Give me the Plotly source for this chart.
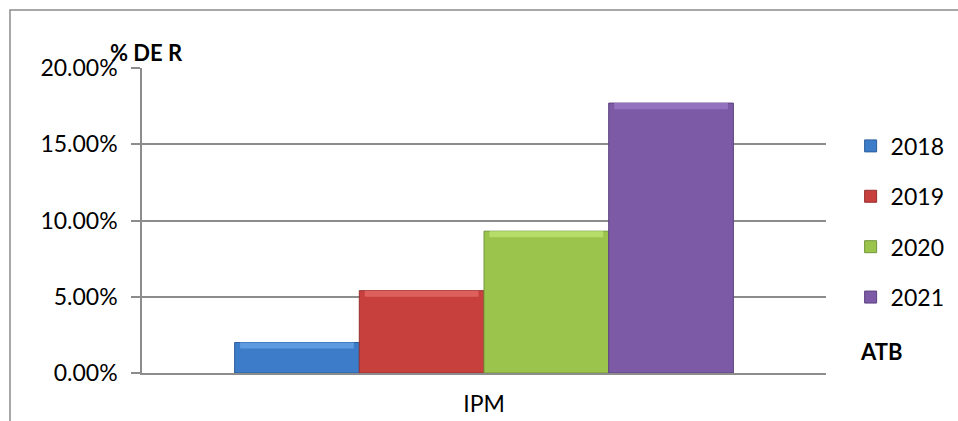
import plotly.graph_objects as go

# Indicator data: share per year for the IPM category
category = ["IPM"]
years = ["2018", "2019", "2020", "2021"]
values = [0.0200, 0.0540, 0.0930, 0.1770]

# Fill, highlight and edge colours per year
fill_colors = ["#3d7cc8", "#c8403e", "#9bc44c", "#7d5aa6"]
light_colors = ["#5f9be0", "#de605c", "#b6dc6a", "#9572c0"]
edge_colors = ["#2d5f9c", "#963030", "#74953a", "#5c4280"]

bar_w = 0.1823
start = -2 * bar_w
bevel = 0.0040  # height of the top highlight, in axis units

fig = go.Figure()
for i, (yr, v) in enumerate(zip(years, values)):
    off = start + i * bar_w
    fig.add_trace(go.Bar(
        x=category, y=[v], name=yr, offset=off, width=bar_w,
        marker=dict(color=fill_colors[i], line=dict(color=edge_colors[i], width=1)),
        hoverinfo="name+y", legendgroup=yr,
    ))
    # bevel highlight along the top of each bar
    fig.add_trace(go.Bar(
        x=category, y=[bevel], base=[v - bevel], offset=off + 0.008, width=bar_w - 0.016,
        marker=dict(color=light_colors[i], line=dict(width=0)),
        showlegend=False, hoverinfo="skip", legendgroup=yr,
    ))

font = "Lato, 'Noto Sans', sans-serif"
grid = "#8c8c8c"

fig.update_layout(
    width=958, height=421,
    margin=dict(l=142, r=132, t=68, b=48, autoexpand=False),
    paper_bgcolor="white", plot_bgcolor="white",
    barmode="overlay",
    font=dict(family=font, size=23, color="black"),
    showlegend=True,
    legend=dict(
        x=1.036, xanchor="left", y=0.815, yanchor="top",
        font=dict(size=23), tracegroupgap=17.5, itemwidth=30,
        bgcolor="rgba(0,0,0,0)",
    ),
    xaxis=dict(
        range=[-0.5, 0.5], showgrid=False, showline=True, linecolor=grid, linewidth=1.5,
        ticks="", ticklabelstandoff=10, tickfont=dict(size=23), automargin=False,
    ),
    yaxis=dict(
        range=[0, 0.2], dtick=0.05, tickformat=".2%",
        showgrid=True, gridcolor=grid, gridwidth=1.5,
        showline=True, linecolor=grid, linewidth=1.5,
        ticks="outside", ticklen=9, tickcolor=grid, tickwidth=1.5,
        ticklabelstandoff=9, zeroline=False, tickfont=dict(size=23), automargin=False,
    ),
    shapes=[dict(
        type="rect", xref="paper", yref="paper",
        x0=-0.193, x1=1.6, y0=-0.6, y1=1.19,
        line=dict(color=grid, width=1.5), fillcolor="rgba(0,0,0,0)", layer="below",
    )],
    annotations=[
        dict(text="<b>% DE R</b>", xref="paper", yref="paper", x=-0.05, y=1.052,
             xanchor="left", yanchor="middle", showarrow=False, font=dict(size=22)),
        dict(text="<b>ATB</b>", xref="paper", yref="paper", x=1.047, y=0.069,
             xanchor="left", yanchor="middle", showarrow=False, font=dict(size=22)),
    ],
)

fig.write_html("out.html")
